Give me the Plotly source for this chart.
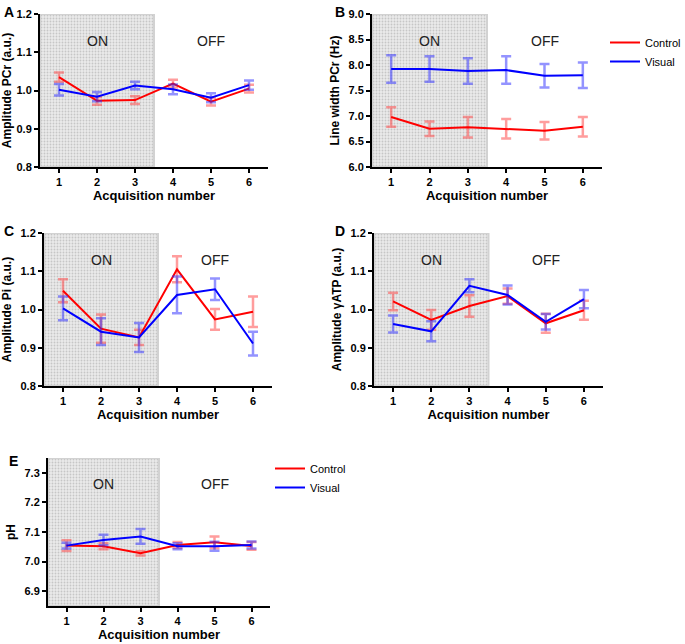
import plotly.graph_objects as go

W, H = 685, 644
x_vals = [1, 2, 3, 4, 5, 6]
x_ticks = ["1", "2", "3", "4", "5", "6"]
series_names = ["Control", "Visual"]
ON_START, ON_END = 0.5, 3.5

A_control = [1.035, 0.973, 0.975, 1.018, 0.971, 1.005]
A_control_err = [0.012, 0.010, 0.010, 0.010, 0.010, 0.010]
A_visual = [1.002, 0.984, 1.013, 1.003, 0.981, 1.014]
A_visual_err = [0.015, 0.012, 0.010, 0.013, 0.012, 0.012]

B_control = [6.98, 6.75, 6.78, 6.75, 6.71, 6.79]
B_control_err = [0.19, 0.14, 0.20, 0.19, 0.17, 0.19]
B_visual = [7.92, 7.92, 7.88, 7.90, 7.79, 7.80]
B_visual_err = [0.27, 0.25, 0.25, 0.27, 0.23, 0.25]

C_control = [1.049, 0.950, 0.927, 1.105, 0.974, 0.994]
C_control_err = [0.030, 0.037, 0.020, 0.034, 0.027, 0.040]
C_visual = [1.003, 0.942, 0.927, 1.038, 1.053, 0.911]
C_visual_err = [0.031, 0.035, 0.038, 0.048, 0.028, 0.031]

D_control = [1.021, 0.973, 1.009, 1.035, 0.964, 0.998]
D_control_err = [0.023, 0.026, 0.028, 0.020, 0.025, 0.025]
D_visual = [0.962, 0.943, 1.062, 1.038, 0.968, 1.027]
D_visual_err = [0.022, 0.026, 0.017, 0.025, 0.020, 0.024]

E_control = [7.054, 7.052, 7.028, 7.056, 7.065, 7.053]
E_control_err = [0.018, 0.010, 0.007, 0.010, 0.020, 0.013]
E_visual = [7.054, 7.073, 7.085, 7.052, 7.052, 7.056]
E_visual_err = [0.010, 0.018, 0.025, 0.010, 0.015, 0.012]

A_yticks = [0.8, 0.9, 1.0, 1.1, 1.2]
B_yticks = [6.0, 6.5, 7.0, 7.5, 8.0, 8.5, 9.0]
C_yticks = [0.8, 0.9, 1.0, 1.1, 1.2]
D_yticks = [0.8, 0.9, 1.0, 1.1, 1.2]
E_yticks = [6.9, 7.0, 7.1, 7.2, 7.3]

panels = [
    dict(letter="A", ytitle="Amplitude PCr (a.u.)", yr=[0.8, 1.2], yt=A_yticks,
         c=A_control, ce=A_control_err, v=A_visual, ve=A_visual_err,
         px=(40, 268), py=(14, 167), lp=(2, 2), legend=None),
    dict(letter="B", ytitle="Line width PCr (Hz)", yr=[6.0, 9.0], yt=B_yticks,
         c=B_control, ce=B_control_err, v=B_visual, ve=B_visual_err,
         px=(372, 602), py=(14, 167), lp=(333, 2), legend="legend"),
    dict(letter="C", ytitle="Amplitude Pi (a.u.)", yr=[0.8, 1.2], yt=C_yticks,
         c=C_control, ce=C_control_err, v=C_visual, ve=C_visual_err,
         px=(44, 272), py=(233, 386), lp=(2, 221), legend=None),
    dict(letter="D", ytitle="Amplitude γATP (a.u.)", yr=[0.8, 1.2], yt=D_yticks,
         c=D_control, ce=D_control_err, v=D_visual, ve=D_visual_err,
         px=(374, 603), py=(233, 386), lp=(333, 221), legend=None),
    dict(letter="E", ytitle="pH", yr=[6.85, 7.35], yt=E_yticks,
         c=E_control, ce=E_control_err, v=E_visual, ve=E_visual_err,
         px=(48, 270), py=(458, 606), lp=(7, 451), legend="legend2"),
]

FONT = "Liberation Sans, Arial, sans-serif"
RED, BLUE = "#ff0000", "#0000ff"
RED_ERR, BLUE_ERR = "rgba(255,60,60,0.5)", "rgba(40,40,255,0.5)"

fig = go.Figure()
layout = dict(width=W, height=H, margin=dict(l=0, r=0, t=0, b=0, autoexpand=False),
              paper_bgcolor="white", plot_bgcolor="white",
              font=dict(family=FONT, color="black"), annotations=[])

for i, p in enumerate(panels):
    n = "" if i == 0 else str(i + 1)
    xa, ya = "x" + n, "y" + n
    y0, y1 = p["yr"]
    # shaded "ON" period
    fig.add_trace(go.Scatter(
        x=[ON_START, ON_END, ON_END, ON_START, ON_START],
        y=[y0, y0, y1, y1, y0], xaxis=xa, yaxis=ya, mode="lines",
        fill="toself", fillcolor="#e6e6e6",
        fillpattern=dict(shape=".", fgcolor="#c6c6c6", bgcolor="#ebebeb",
                         size=3, solidity=0.3, fillmode="replace"),
        line=dict(color="#d2d2d2", width=2), showlegend=False, hoverinfo="skip"))
    for name, vals, errs, col, ecol in [
            ("Control", p["c"], p["ce"], RED, RED_ERR),
            ("Visual", p["v"], p["ve"], BLUE, BLUE_ERR)]:
        tr = dict(x=x_vals, y=vals, xaxis=xa, yaxis=ya, mode="lines", name=name,
                  line=dict(color=col, width=2),
                  error_y=dict(type="data", array=errs, color=ecol,
                               thickness=2.5, width=5),
                  showlegend=p["legend"] is not None)
        if p["legend"] is not None:
            tr["legend"] = p["legend"]
        fig.add_trace(go.Scatter(**tr))

    xl, xr = p["px"]
    yt_, yb = p["py"]
    layout["xaxis" + n] = dict(
        domain=[xl / W, xr / W], anchor=ya, range=[0.5, 6.5],
        tickvals=x_vals, ticktext=x_ticks, showline=True, linecolor="black",
        linewidth=2, ticks="outside", ticklen=4, tickwidth=2, tickcolor="black",
        showgrid=False, zeroline=False,
        tickfont=dict(family=FONT, size=11, weight="bold", color="black"),
        title=dict(text="Acquisition number", standoff=2,
                   font=dict(family=FONT, size=13, weight="bold", color="black")))
    layout["yaxis" + n] = dict(
        domain=[1 - yb / H, 1 - yt_ / H], anchor=xa, range=p["yr"],
        tickvals=p["yt"], tickformat=".1f", showline=True, linecolor="black",
        linewidth=2, ticks="outside", ticklen=4, tickwidth=2, tickcolor="black",
        showgrid=False, zeroline=False,
        tickfont=dict(family=FONT, size=11, weight="bold", color="black"),
        title=dict(text=p["ytitle"], standoff=6,
                   font=dict(family=FONT, size=12, weight="bold", color="black")))
    layout["annotations"] += [
        dict(text="ON", x=2, y=0.89, xref=xa, yref=ya + " domain", showarrow=False,
             font=dict(family=FONT, size=14, color="#222")),
        dict(text="OFF", x=5, y=0.89, xref=xa, yref=ya + " domain", showarrow=False,
             font=dict(family=FONT, size=14, color="#222")),
        dict(text=p["letter"], x=p["lp"][0] / W, y=1 - p["lp"][1] / H,
             xref="paper", yref="paper", xanchor="left", yanchor="top",
             showarrow=False, font=dict(family=FONT, size=14, weight="bold")),
    ]

layout["legend"] = dict(x=605 / W, y=1 - 28 / H, xanchor="left", yanchor="top",
                        itemwidth=30, font=dict(family=FONT, size=11),
                        bgcolor="rgba(0,0,0,0)", tracegroupgap=0)
layout["legend2"] = dict(x=270 / W, y=1 - 454 / H, xanchor="left", yanchor="top",
                         itemwidth=30, font=dict(family=FONT, size=11),
                         bgcolor="rgba(0,0,0,0)", tracegroupgap=0)
fig.update_layout(**layout)
fig.write_html("out.html", config={"displayModeBar": False},
               post_script="document.body.style.margin='0';document.body.style.overflow='hidden';")
